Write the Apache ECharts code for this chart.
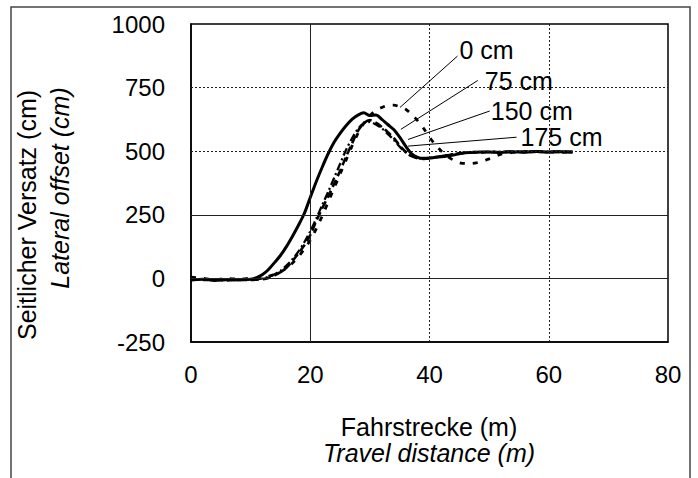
<!DOCTYPE html>
<html><head><meta charset="utf-8">
<script src="https://cdn.jsdelivr.net/npm/echarts@6/dist/echarts.min.js"></script>
<style>html,body{margin:0;padding:0;background:#fff}#c{width:698px;height:478px}</style>
</head><body><div id="c"></div>
<script>
// Travel distance (m)
const dist = [0,2,4,6,8,10,11,12,13,14,15,16,17,18,19,20,21,22,23,24,25,26,27,28,29,30,31,32,33,34,35,36,37,38,39,40,41,42,43,44,45,46,47,48,49,50,52,54,56,58,60,62,64];
// Lateral offset (cm) for each series
const off0 = [5,0,-5,0,-3,0, 0,2,8,15,25,40,60,85,115,150, 195,245,300,355,410,465,520,570,610,640, 660,672,680,681,675,665,645,620,590,555, 525,500,480,465,455,452,452,455,461,470, 488,495,497,498,496,497,495];
const off75 = [-5,-3,-8,-5,-6,-3, 3,15,35,62,90,125,165,208,255,318, 380,437,490,535,570,600,625,642,651,640, 642,625,605,585,555,520,490,476,472,473, 476,478,481,485,490,494,495,496,497,497, 495,498,496,499,497,498,496];
const off150 = [-3,-6,-4,-8,-5,-6, -5,-3,2,12,25,42,68,98,130,170, 225,275,322,372,422,478,530,580,610,622, 612,595,575,552,522,498,482,472,470,472, 476,480,484,488,491,494,496,497,495,498, 496,499,497,498,496,499,497];
const off175 = [-8,-4,-7,-3,-6,-4, -3,0,6,16,30,50,75,105,142,185, 235,288,340,395,450,505,550,588,610,615, 605,590,568,545,518,495,480,473,471,473, 477,481,485,488,491,493,495,496,497,496, 498,496,499,497,498,496,498];
const seriesNames = ['0 cm','75 cm','150 cm','175 cm'];
// Leader annotations (data coordinates)
const leaderFrom = [[35.05,672],[35.2,586],[36.4,546],[36.4,520]];
const leaderTo = [[44.7,874],[48.1,778],[50.1,658],[54.6,555]];
// Axis ticks / grid
const xTicks = [0,20,40,60,80];
const yTicks = [-250,0,250,500,750,1000];
const solidGridX = [20], dottedGridX = [40,60];
const solidGridY = [250,0], dottedGridY = [750,500];

const FONT = 'Liberation Sans, Arial, sans-serif';
const allOffsets = [off0, off75, off150, off175];
const lineStyles = [
  {type:[5,8], width:2.8},
  {type:'solid', width:3},
  {type:[8,4], width:2.6},
  {type:[8,3,2,3], width:2.3}
];
const labelOffsets = [[0,-6],[5,1],[-1,0],[2,0]];

const gridLines = [];
solidGridX.forEach(v => gridLines.push({xAxis:v, lineStyle:{type:'solid'}}));
dottedGridX.forEach(v => gridLines.push({xAxis:v, lineStyle:{type:[2,2]}}));
solidGridY.forEach(v => gridLines.push({yAxis:v, lineStyle:{type:'solid'}}));
dottedGridY.forEach(v => gridLines.push({yAxis:v, lineStyle:{type:[2,2]}}));

const series = [{
  type:'line', data:[], silent:true,
  markLine:{silent:true, symbol:['none','none'], animation:false, label:{show:false},
    lineStyle:{color:'#222', width:1}, data:gridLines}
}];
seriesNames.forEach((name,i) => {
  series.push({
    name, type:'line', showSymbol:false, symbol:'none', smooth:0.3, animation:false,
    data: dist.map((d,k)=>[d, allOffsets[i][k]]),
    lineStyle: Object.assign({color:'#000'}, lineStyles[i]),
    markLine:{silent:true, symbol:['none','none'], animation:false, label:{show:false},
      lineStyle:{color:'#000', width:1, type:'solid'},
      data:[[{coord:leaderFrom[i]},{coord:leaderTo[i]}]]},
    markPoint:{silent:true, animation:false, symbol:'circle', symbolSize:0,
      data:[{coord:leaderTo[i], value:name}],
      label:{show:true, position:'right', distance:2, offset:labelOffsets[i], formatter:name,
        color:'#000', fontSize:25, fontFamily:FONT}}
  });
});

const chart = echarts.init(document.getElementById('c'), null, {renderer:'svg'});
chart.setOption({
  backgroundColor:'#fff',
  animation:false,
  grid:{left:191, right:30, top:24, bottom:136, show:true, borderColor:'#000', borderWidth:1.5, backgroundColor:'transparent'},
  xAxis:{type:'value', min:xTicks[0], max:xTicks[xTicks.length-1], interval:20,
    axisLine:{show:true, onZero:false, lineStyle:{color:'#000', width:1.5}},
    axisTick:{show:false}, splitLine:{show:false},
    axisLabel:{color:'#000', fontSize:24, fontFamily:FONT, margin:20, formatter:v=>String(v)}},
  yAxis:{type:'value', min:yTicks[0], max:yTicks[yTicks.length-1], interval:250,
    axisLine:{show:true, onZero:false, lineStyle:{color:'#000', width:1.5}},
    axisTick:{show:false}, splitLine:{show:false},
    axisLabel:{color:'#000', fontSize:24, fontFamily:FONT, margin:26, formatter:v=>String(v)}},
  graphic:[
    {type:'rect', shape:{x:11, y:7, width:679, height:490}, style:{fill:'none', stroke:'#444', lineWidth:1.5}, silent:true},
    {type:'text', x:429, y:427, style:{text:'Fahrstrecke (m)', font:'25px '+FONT, fill:'#000', textAlign:'center', textVerticalAlign:'middle'}},
    {type:'text', x:429, y:453, style:{text:'Travel distance (m)', font:'italic 25px '+FONT, fill:'#000', textAlign:'center', textVerticalAlign:'middle'}},
    {type:'text', x:27, y:215, rotation:Math.PI/2, style:{text:'Seitlicher Versatz (cm)', font:'25px '+FONT, fill:'#000', textAlign:'center', textVerticalAlign:'middle'}},
    {type:'text', x:60, y:188, rotation:Math.PI/2, style:{text:'Lateral offset (cm)', font:'italic 25px '+FONT, fill:'#000', textAlign:'center', textVerticalAlign:'middle'}}
  ],
  series
});
</script></body></html>
